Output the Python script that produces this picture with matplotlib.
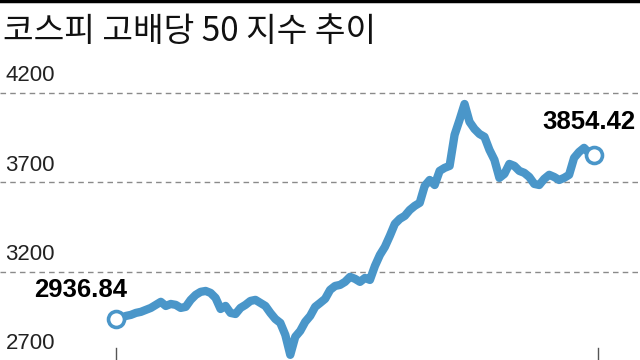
import matplotlib.pyplot as plt

# 코스피 고배당 50 지수 (일별 추정치)
values = [
    2936.84, 2941, 2952, 2958, 2969, 2975, 2986, 2997, 3014, 3031,
    3008, 3019, 3014, 2997, 3003, 3042, 3070, 3087, 3092, 3081,
    3053, 2991, 3008, 2969, 2963, 2997, 3014, 3036, 3042, 3025,
    3008, 2969, 2935, 2913, 2846, 2734, 2835, 2868, 2919, 2952,
    3003, 3025, 3048, 3098, 3120, 3126, 3143, 3171, 3160, 3143,
    3165, 3154, 3232, 3294, 3339, 3401, 3468, 3496, 3513, 3546,
    3569, 3586, 3681, 3714, 3686, 3765, 3782, 3793, 3967, 4051,
    4140, 4040, 4000, 3972, 3956, 3883, 3827, 3726, 3748, 3804,
    3793, 3765, 3754, 3731, 3692, 3686, 3720, 3743, 3731, 3714,
    3726, 3743, 3838, 3871, 3894, 3866, 3854.42,
]
y_ticks = [2700, 3200, 3700, 4200]
title = "코스피 고배당 50 지수 추이"

num_font = "Liberation Sans"
blue = "#4a96c9"
n = len(values)
px = 478 / (n - 1)  # 한 칸당 픽셀

fig = plt.figure(figsize=(6.4, 3.6), dpi=100)
ax = fig.add_axes([0, 0, 1, 300 / 360])

ax.plot(range(n), values, color=blue, lw=6, solid_joinstyle="round",
        solid_capstyle="round", zorder=3)
for i in (0, n - 1):
    ax.plot(i, values[i], "o", ms=11.5, mfc="white", mec=blue, mew=2.6, zorder=4)

ax.set_xlim(-116 / px, (n - 1) + 46 / px)
ax.set_ylim(2705, 2705 + 300 * 500 / 89.2)

for v in y_ticks:
    ax.axhline(v, color="#8a8a8a", lw=1.0, ls=(0, (4, 3)), zorder=1)
    ax.annotate(str(v), (0, v), xycoords=("axes fraction", "data"),
                xytext=(4, 5), textcoords="offset points",
                ha="left", va="bottom", fontsize=16, family=num_font,
                color="#222222")

# 아래 눈금
for i in (0, n - 1 + 4 / px):
    ax.plot([i, i], [2705, 2705 + 12 * 500 / 89.2], color="#555555", lw=1, zorder=2)

ax.annotate(f"{values[0]:.2f}", (0, values[0]), xytext=(8, 12),
            textcoords="offset points", ha="right", va="bottom",
            fontsize=18.5, fontweight="bold", family=num_font, color="black")
ax.annotate(f"{values[-1]:.2f}", (n - 1, values[-1]), xytext=(-37, 15),
            textcoords="offset points", ha="left", va="bottom",
            fontsize=18.5, fontweight="bold", family=num_font, color="black")

ax.axis("off")

fig.text(0.004, 0.913, title, ha="left", va="center", fontsize=24,
         family=["Noto Sans CJK KR", "DejaVu Sans"], color="#111111")
fig.add_artist(plt.Line2D([0, 1], [0.996, 0.996], color="black", lw=2.5))

fig.savefig("out.png", dpi=100)
